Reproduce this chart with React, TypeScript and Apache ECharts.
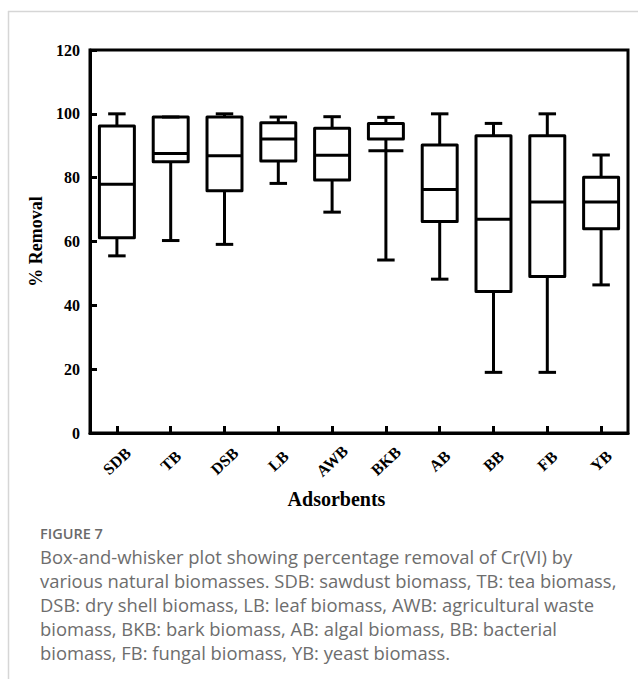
import React, { useEffect, useRef } from "react";
import * as echarts from "echarts";

const categories = ["SDB", "TB", "DSB", "LB", "AWB", "BKB", "AB", "BB", "FB", "YB"];
const minValues = [55.5, 60.3, 59.1, 78.2, 69.2, 54.2, 48.2, 19, 19, 46.4];
const q1Values = [61.2, 85, 75.9, 85.2, 79.3, 92.1, 66.3, 44.3, 49, 64];
const medianValues = [77.9, 87.6, 86.9, 92.1, 87, 88.4, 76.3, 67, 72.4, 72.4];
const q3Values = [96.2, 99, 99, 97.2, 95.5, 97, 90.2, 93.1, 93.1, 80.1];
const maxValues = [100, 99, 100, 99, 99.1, 98.9, 100, 97, 100, 87.1];

const yTicks = { min: 0, max: 120, interval: 20 };
const xAxisName = "Adsorbents";
const yAxisName = "% Removal";
const figureLabel = "FIGURE 7";
const captionLines = [
  "Box-and-whisker plot showing percentage removal of Cr(VI) by",
  "various natural biomasses. SDB: sawdust biomass, TB: tea biomass,",
  "DSB: dry shell biomass, LB: leaf biomass, AWB: agricultural waste",
  "biomass, BKB: bark biomass, AB: algal biomass, BB: bacterial",
  "biomass, FB: fungal biomass, YB: yeast biomass.",
];

const SERIF = "'Liberation Serif', 'Times New Roman', serif";
const SANS = "'Open Sans', 'Noto Sans', sans-serif";

export default function App() {
  const ref = useRef<HTMLDivElement>(null);
  useEffect(() => {
    if (!ref.current) return;
    const chart = echarts.init(ref.current, undefined, { renderer: "svg" });
    const data = categories.map((_, i) => [
      i,
      minValues[i],
      q1Values[i],
      medianValues[i],
      q3Values[i],
      maxValues[i],
    ]);
    const lineStyle = { stroke: "#000", lineWidth: 3 };
    const option: any = {
      animation: false,
      backgroundColor: "#fff",
      grid: {
        left: 90,
        right: 10,
        top: 50,
        bottom: 246,
        show: true,
        borderColor: "#000",
        borderWidth: 3,
        backgroundColor: "transparent",
      },
      xAxis: {
        type: "category",
        data: categories,
        boundaryGap: true,
        name: xAxisName,
        nameLocation: "middle",
        nameGap: 56,
        nameTextStyle: {
          fontFamily: SERIF,
          fontWeight: "bold",
          fontSize: 20,
          color: "#000",
          padding: [0, 45, 0, 0],
        },
        axisLine: { show: true, lineStyle: { color: "#000", width: 3 } },
        axisTick: { show: true, inside: true, alignWithLabel: true, length: 7, lineStyle: { color: "#000", width: 3 } },
        axisLabel: {
          rotate: 43,
          align: "center",
          verticalAlign: "middle",
          margin: 28,
          fontFamily: SERIF,
          fontWeight: "bold",
          fontSize: 16,
          color: "#000",
        },
        splitLine: { show: false },
      },
      yAxis: {
        type: "value",
        min: yTicks.min,
        max: yTicks.max,
        interval: yTicks.interval,
        name: yAxisName,
        nameLocation: "middle",
        nameGap: 45,
        nameTextStyle: { fontFamily: SERIF, fontWeight: "bold", fontSize: 18, color: "#000" },
        axisLine: { show: true, lineStyle: { color: "#000", width: 3 } },
        axisTick: { show: true, inside: true, length: 7, lineStyle: { color: "#000", width: 3 } },
        axisLabel: { margin: 10, fontFamily: SERIF, fontWeight: "bold", fontSize: 16, color: "#000" },
        splitLine: { show: false },
      },
      series: [
        {
          type: "custom",
          data,
          encode: { x: 0, y: [1, 2, 3, 4, 5] },
          renderItem: (params: any, api: any) => {
            const idx = api.value(0);
            const pMin = api.coord([idx, api.value(1)]);
            const pQ1 = api.coord([idx, api.value(2)]);
            const pMed = api.coord([idx, api.value(3)]);
            const pQ3 = api.coord([idx, api.value(4)]);
            const pMax = api.coord([idx, api.value(5)]);
            const cx = pMed[0];
            const bw = api.size([1, 0])[0] * 0.65;
            const cw = bw * 0.5;
            return {
              type: "group",
              children: [
                { type: "line", shape: { x1: cx, y1: pQ3[1], x2: cx, y2: pMax[1] }, style: lineStyle },
                { type: "line", shape: { x1: cx, y1: pQ1[1], x2: cx, y2: pMin[1] }, style: lineStyle },
                { type: "line", shape: { x1: cx - cw / 2, y1: pMax[1], x2: cx + cw / 2, y2: pMax[1] }, style: lineStyle },
                { type: "line", shape: { x1: cx - cw / 2, y1: pMin[1], x2: cx + cw / 2, y2: pMin[1] }, style: lineStyle },
                {
                  type: "rect",
                  shape: { x: cx - bw / 2, y: pQ3[1], width: bw, height: pQ1[1] - pQ3[1] },
                  style: { fill: "none", stroke: "#000", lineWidth: 3, lineJoin: "round" },
                },
                { type: "line", shape: { x1: cx - bw / 2, y1: pMed[1], x2: cx + bw / 2, y2: pMed[1] }, style: lineStyle },
              ],
            };
          },
        },
      ],
      graphic: [
        { type: "line", shape: { x1: 8.5, y1: 11, x2: 8.5, y2: 679 }, style: { stroke: "#d6d6d6", lineWidth: 1.5 } },
        { type: "line", shape: { x1: 8, y1: 11.5, x2: 638, y2: 11.5 }, style: { stroke: "#d6d6d6", lineWidth: 1.5 } },
        {
          type: "text",
          x: 40,
          y: 533.5,
          style: {
            text: figureLabel,
            font: `600 14.5px ${SANS}`,
            fill: "#6a6a6a",
            textVerticalAlign: "middle",
            lineHeight: 14,
          },
        },
        ...captionLines.map((t, i) => ({
          type: "text",
          x: 40,
          y: 556.5 + i * 24.1,
          style: {
            text: t,
            font: `18.4px ${SANS}`,
            fill: "#6d6d6d",
            textVerticalAlign: "middle",
            lineHeight: 18,
          },
        })),
      ],
    };
    chart.setOption(option);
    return () => chart.dispose();
  }, []);
  return <div ref={ref} style={{ position: "absolute", left: 0, top: 0, width: 638, height: 679 }} />;
}
